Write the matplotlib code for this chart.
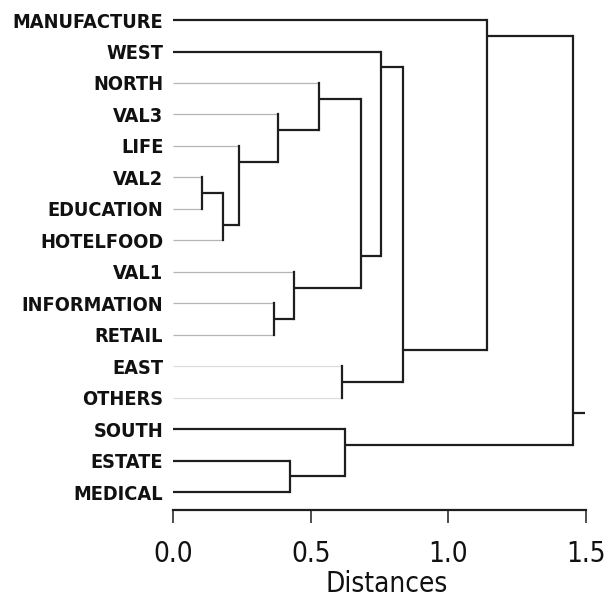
import matplotlib
matplotlib.use("Agg")
import matplotlib.pyplot as plt
from matplotlib import font_manager
from matplotlib.ticker import FormatStrFormatter

# pick a condensed face if one is installed, else plain Liberation Sans
fonts = font_manager.fontManager.ttflist
narrow = None
for f in fonts:
    if f.name == 'Liberation Sans Narrow':
        narrow = ('Liberation Sans Narrow', 'normal')
        break
if narrow is None:
    for f in fonts:
        if f.name == 'DejaVu Sans' and 'condensed' in str(f.stretch):
            narrow = ('DejaVu Sans', 'condensed')
            break
if narrow is None:
    narrow = ('Liberation Sans', 'normal')
    LABEL_SIZE, TICK_SIZE = 13.5, 19
else:
    LABEL_SIZE, TICK_SIZE = 14.3, 20

plt.rcParams['font.family'] = [narrow[0], 'DejaVu Sans']
plt.rcParams['font.stretch'] = narrow[1]

# ── data ─────────────────────────────────────────────────────────────────────
leaves = ['MANUFACTURE', 'WEST', 'NORTH', 'VAL3', 'LIFE', 'VAL2', 'EDUCATION',
          'HOTELFOOD', 'VAL1', 'INFORMATION', 'RETAIL', 'EAST', 'OTHERS',
          'SOUTH', 'ESTATE', 'MEDICAL']

# merge k creates node 16+k from (upper child, lower child) at distance merge_h
merge_a = [5, 16, 4, 3, 2, 9, 8, 20, 1, 11, 24, 0, 14, 13, 27]
merge_b = [6, 7, 17, 18, 19, 10, 21, 22, 23, 12, 25, 26, 15, 28, 29]
merge_h = [0.107, 0.183, 0.241, 0.383, 0.531, 0.367, 0.441, 0.682,
           0.755, 0.614, 0.834, 1.14, 0.425, 0.625, 1.453]

x_ticks = [0.0, 0.5, 1.0, 1.5]

# ── style ────────────────────────────────────────────────────────────────────
DARK = '#1e1e1e'
GREY = '#b4b4b4'
FAINT = '#dcdcdc'
leaf_color = [DARK, DARK, GREY, GREY, GREY, GREY, GREY, GREY, GREY, GREY,
              GREY, FAINT, FAINT, DARK, DARK, DARK]
leaf_lw = [1.6 if c == DARK else 0.9 for c in leaf_color]
ROOT_NUB = 0.045

# ── figure ───────────────────────────────────────────────────────────────────
fig = plt.figure(figsize=(6.1, 6.06), dpi=100)
fig.patch.set_facecolor('white')
ax = fig.add_axes([173 / 610, 96 / 606, 0.6995, 506 / 606])

n = len(leaves)
node_y = {i: float(i) for i in range(n)}
node_h = {i: 0.0 for i in range(n)}
first = {i: i for i in range(n)}
last = {i: i for i in range(n)}

def child_stub(c, h, y):
    if c < n:
        ax.plot([0, h], [y, y], color=leaf_color[c], lw=leaf_lw[c],
                solid_capstyle='butt', zorder=1)
    else:
        ax.plot([node_h[c], h], [y, y], color=DARK, lw=1.6,
                solid_capstyle='butt', zorder=2)

for k, (a, b, h) in enumerate(zip(merge_a, merge_b, merge_h)):
    node = n + k
    ya, yb = node_y[a], node_y[b]
    child_stub(a, h, ya)
    child_stub(b, h, yb)
    ax.plot([h, h], [ya, yb], color=DARK, lw=1.6, solid_capstyle='projecting',
            zorder=2)
    first[node], last[node] = first[a], last[b]
    # connector leaves the bracket between the two groups of leaves
    node_y[node] = last[a] + 0.5
    node_h[node] = h

root = n + len(merge_h) - 1
ax.plot([node_h[root], node_h[root] + ROOT_NUB], [node_y[root]] * 2,
        color=DARK, lw=1.6, solid_capstyle='butt')

# ── axes ─────────────────────────────────────────────────────────────────────
ax.set_xlim(0, 1.55)
ax.set_ylim(15.57, -0.51)
ax.set_yticks(range(n))
ax.set_yticklabels(leaves, fontsize=LABEL_SIZE, fontweight='bold',
                   color='#111111')
ax.tick_params(axis='y', length=0, pad=7)

ax.set_xticks(x_ticks)
ax.xaxis.set_major_formatter(FormatStrFormatter('%.1f'))
ax.tick_params(axis='x', direction='out', length=9.4, width=1.1, pad=12,
               labelsize=TICK_SIZE, color=DARK, labelcolor='#111111')
ax.set_xlabel('Distances', fontsize=TICK_SIZE, color='#111111', labelpad=2)

for side in ['top', 'right', 'left']:
    ax.spines[side].set_visible(False)
ax.spines['bottom'].set_bounds(0, 1.5)
ax.spines['bottom'].set_linewidth(1.6)
ax.spines['bottom'].set_color(DARK)
ax.set_facecolor('white')

fig.savefig('out.png', dpi=100, facecolor='white')
